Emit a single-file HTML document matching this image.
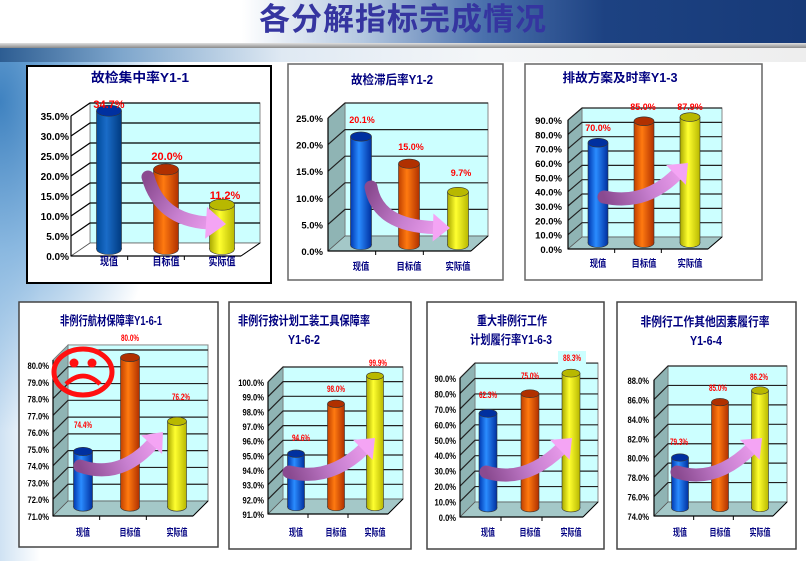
<!DOCTYPE html>
<html><head><meta charset="utf-8">
<style>
html,body{margin:0;padding:0;}
body{width:806px;height:561px;overflow:hidden;position:relative;background:#fff;font-family:"Liberation Sans","Noto Sans CJK SC",sans-serif;}
#hdr{position:absolute;left:0;top:0;width:806px;height:44px;background:linear-gradient(90deg,#fff 0%,#fff 30%,#b4c8e0 45%,#4a70ac 60%,#1d4282 75%,#173a78 100%);}
#shadow{position:absolute;left:0;top:43px;width:806px;height:5px;background:linear-gradient(#e0e0e0,#8a8a8a);}
#band{position:absolute;left:0;top:48px;width:806px;height:14px;background:linear-gradient(90deg,#2d5d92 0%,#7ea6cc 15%,#dfe9f3 35%,#f4f6f8 60%,#eeeeee 100%);}
#lside{position:absolute;left:0;top:62px;width:806px;height:499px;background:radial-gradient(ellipse 170px 330px at 0px 40px,#3f82c0 0%,#8ab8e0 45%,rgba(255,255,255,0) 100%),linear-gradient(90deg,#cfe2f3 0px,#fff 40px);}
#title{position:absolute;left:0;width:806px;top:0;text-align:center;font:bold 31px "Liberation Sans","Noto Sans CJK SC",sans-serif;color:#3535a0;line-height:40px;letter-spacing:1px;}
svg{position:absolute;left:0;top:0;}
</style></head>
<body>
<div id="hdr"></div><div id="shadow"></div><div id="band"></div><div id="lside"></div>
<div id="title">各分解指标完成情况</div>
<svg id="s" width="806" height="561" viewBox="0 0 806 561"></svg>
<script>
var CN='font-family="Liberation Sans,Noto Sans CJK SC,sans-serif"';
var charts=[
{box:[27,66,244,217],bc:"#000",bw:2,t:[["故检集中率Y1-1",140,82,98]],vmin:0,vtop:35,st:5,y0:256,k:4,ax:71,dx:19,dy:13,wr:260,lx:69,
 bx:[109,166,222],bwid:25,bb:249,v:[34.7,20,11.2],vl:[[109,108,"34.7%"],[167,160,"20.0%"],[225,199,"11.2%"]],cy:265,side:"#fff",floor:"#fff",ar:[148,177,160,220,226,224],big:1},
{box:[288,64,215,216],bc:"#666",bw:1.5,t:[["故检滞后率Y1-2",392,84,82]],vmin:0,vtop:25,st:5,y0:251,k:5.32,ax:328,dx:17,dy:15,wr:488,lx:323,
 bx:[361,409,458],bwid:21,bb:245,v:[20.1,15,9.7],vl:[[362,123,"20.1%"],[411,150,"15.0%"],[461,176,"9.7%"]],cy:270,ar:[371,187,378,226,450,228]},
{box:[525,64,237,216],bc:"#666",bw:1.5,t:[["排故方案及时率Y1-3",620,82,115]],vmin:0,vtop:90,st:10,y0:249,k:1.433,ax:568,dx:14,dy:12,wr:722,lx:562,
 bx:[598,644,690],bwid:20,bb:243,v:[70,85,87.9],vl:[[598,131,"70.0%"],[643,110,"85.0%"],[690,110,"87.9%"]],cy:267,ar:[604,197,645,206,688,163]},
{box:[19,302,199,245],bc:"#444",bw:1.5,t:[["非例行航材保障率Y1-6-1",111,325,102]],vmin:71,vtop:80.3,st:1,y0:516,k:16.78,ax:53,dx:15,dy:15,wr:208,lx:49,
 bx:[83,130,177],bwid:19,bb:507,v:[74.4,80,76.2],vl:[[83,428,"74.4%"],[130,341,"80.0%"],[181,400,"76.2%"]],cy:536,ar:[80,466,120,480,163,432],sad:1},
{box:[229,302,182,247],bc:"#444",bw:1.5,t:[["非例行按计划工装工具保障率",304,325,132],["Y1-6-2",304,344,32]],vmin:91,vtop:100,st:1,y0:514,k:14.67,ax:268,dx:15,dy:15,wr:403,lx:264,
 bx:[296,336,375],bwid:17,bb:507,v:[94.6,98,99.9],vl:[[301,441,"94.6%"],[336,392,"98.0%"],[378,366,"99.9%"]],cy:536,ar:[289,472,330,482,375,438]},
{box:[427,302,177,247],bc:"#444",bw:1.5,t:[["重大非例行工作",512,325,70],["计划履行率Y1-6-3",511,344,82]],vmin:0,vtop:90,st:10,y0:517,k:1.544,ax:460,dx:15,dy:15,wr:598,lx:456,
 bx:[488,530,571],bwid:18,bb:508,v:[62.3,75,88.3],vl:[[488,398,"62.3%"],[530,379,"75.0%"],[572,361,"88.3%",1]],cy:536,ar:[486,472,525,484,572,438]},
{box:[617,302,179,247],bc:"#444",bw:1.5,t:[["非例行工作其他因素履行率",705,326,129],["Y1-6-4",706,345,32]],vmin:74,vtop:88,st:2,y0:516,k:9.714,ax:654,dx:14,dy:14,wr:787,lx:649,
 bx:[680,720,760],bwid:17,bb:508,v:[79.3,85,86.2],vl:[[679,445,"79.3%"],[718,391,"85.0%"],[759,380,"86.2%"]],cy:536,ar:[677,472,715,484,762,438]}
];
var cats=["现值","目标值","实际值"];
function T(x,y,anchor,fs,fill,txt,len){
 return '<text x="'+x+'" y="'+y+'" text-anchor="'+anchor+'" font-size="'+fs+'" font-weight="bold" fill="'+fill+'" '+CN+(len?' textLength="'+len+'" lengthAdjust="spacingAndGlyphs"':'')+'>'+txt+'</text>';
}
var h='<defs>';
var cols=[["#0038b0","#2a8cff","#0030a0"],["#c04000","#ff7a10","#b03000"],["#a8a800","#ffff30","#b8b800"]];
cols.forEach(function(c,i){h+='<linearGradient id="g'+i+'" x1="0" x2="1" y1="0" y2="0"><stop offset="0" stop-color="'+c[0]+'"/><stop offset="0.4" stop-color="'+c[1]+'"/><stop offset="1" stop-color="'+c[2]+'"/></linearGradient>';});
h+='<linearGradient id="g3" x1="0" x2="1" y1="0" y2="0"><stop offset="0" stop-color="#004a9a"/><stop offset="0.4" stop-color="#1a6cc8"/><stop offset="1" stop-color="#003a80"/></linearGradient>';
charts.forEach(function(c,i){var a=c.ar;h+='<linearGradient id="a'+i+'" gradientUnits="userSpaceOnUse" x1="'+a[0]+'" y1="'+a[1]+'" x2="'+a[4]+'" y2="'+a[5]+'"><stop offset="0" stop-color="#8a4a90"/><stop offset="0.5" stop-color="#c880d0"/><stop offset="1" stop-color="#f4a4f4"/></linearGradient>';});
h+='</defs>';
charts.forEach(function(c,ci){
 var b=c.box;
 h+='<rect x="'+b[0]+'" y="'+b[1]+'" width="'+b[2]+'" height="'+b[3]+'" fill="#fff" stroke="'+c.bc+'" stroke-width="'+c.bw+'"/>';
 function ym(v){return c.y0-(v-c.vmin)*c.k;}
 var wl=c.ax+c.dx, yt=ym(c.vtop), fy=c.y0-c.dy;
 var gl=c.big?"#000":"#222";
 var low=b[1]>200;
 h+='<rect x="'+wl+'" y="'+(yt-c.dy)+'" width="'+(c.wr-wl)+'" height="'+(fy-yt+c.dy)+'" fill="#ccffff" stroke="#888" stroke-width="1"/>';
 h+='<polygon points="'+c.ax+','+yt+' '+wl+','+(yt-c.dy)+' '+wl+','+fy+' '+c.ax+','+c.y0+'" fill="'+(c.side||"#8fb4b4")+'" stroke="#777" stroke-width="0.8"/>';
 h+='<polygon points="'+c.ax+','+c.y0+' '+(c.wr-c.dx)+','+c.y0+' '+c.wr+','+fy+' '+wl+','+fy+'" fill="'+(c.floor||"#a4c8c8")+'" stroke="#555" stroke-width="0.8"/>';
 for(var v=c.vmin;v<=c.vtop+0.001;v+=c.st){
  var y=ym(v);
  if(v>c.vmin+0.001) h+='<polyline points="'+c.ax+','+y+' '+wl+','+(y-c.dy)+' '+c.wr+','+(y-c.dy)+'" fill="none" stroke="'+gl+'" stroke-width="1.2"/>';
  var lab=v.toFixed(1)+"%";
  h+=T(c.lx,y+4,"end",c.big?10:9.5,"#000",lab,low?lab.length*4.3:0);
 }
 h+='<line x1="'+c.ax+'" y1="'+yt+'" x2="'+c.ax+'" y2="'+c.y0+'" stroke="#000" stroke-width="1.2"/>';
 h+='<line x1="'+c.ax+'" y1="'+c.y0+'" x2="'+(c.wr-c.dx)+'" y2="'+c.y0+'" stroke="#000" stroke-width="1.2"/>';
 h+='<line x1="'+(c.wr-c.dx)+'" y1="'+c.y0+'" x2="'+c.wr+'" y2="'+fy+'" stroke="#000" stroke-width="1"/>';
 var seg=(c.wr-c.dx-c.ax)/3;
 for(var t=1;t<3;t++){var tx=c.ax+seg*t;h+='<line x1="'+tx+'" y1="'+c.y0+'" x2="'+tx+'" y2="'+(c.y0+4)+'" stroke="#000"/>';}
 if(c.sad){
  h+='<ellipse cx="83" cy="372" rx="29" ry="23" fill="none" stroke="#ff1010" stroke-width="5"/>';
  h+='<circle cx="74" cy="363" r="4.5" fill="#ff1010"/><circle cx="92" cy="363" r="4.5" fill="#ff1010"/>';
  h+='<path d="M66,384 Q83,368 100,384" fill="none" stroke="#ff1010" stroke-width="4.5"/>';
 }
 c.bx.forEach(function(cx,j){
  var w=c.bwid, x=cx-w/2, top=ym(c.v[j])-c.dy/2, ry=w*0.22, bot=c.bb;
  var g=(c.big&&j==0)?"g3":"g"+j;
  h+='<ellipse cx="'+cx+'" cy="'+bot+'" rx="'+(w/2)+'" ry="'+ry+'" fill="url(#'+g+')" stroke="#333" stroke-width="0.6"/>';
  h+='<rect x="'+x+'" y="'+top+'" width="'+w+'" height="'+(bot-top)+'" fill="url(#'+g+')"/>';
  h+='<line x1="'+x+'" y1="'+top+'" x2="'+x+'" y2="'+bot+'" stroke="#333" stroke-width="0.6"/><line x1="'+(x+w)+'" y1="'+top+'" x2="'+(x+w)+'" y2="'+bot+'" stroke="#333" stroke-width="0.6"/>';
  h+='<ellipse cx="'+cx+'" cy="'+top+'" rx="'+(w/2)+'" ry="'+ry+'" fill="'+cols[j][2]+'" stroke="#333" stroke-width="0.6"/>';
  h+=T(cx,c.cy,"middle",c.big?11:10,"#000080",cats[j],cats[j].length*(low?7:(c.big?9:8.3)));
 });
 var a=c.ar, ex=a[4],ey=a[5], vx=ex-a[2], vy=ey-a[3], L=Math.sqrt(vx*vx+vy*vy); vx/=L; vy/=L;
 var hl=c.big?20:17, hw=c.big?16:14, bxp=ex-vx*hl, byp=ey-vy*hl, px=-vy, py=vx;
 h+='<path d="M'+a[0]+','+a[1]+' Q'+a[2]+','+a[3]+' '+(bxp+vx*2)+','+(byp+vy*2)+'" fill="none" stroke="url(#a'+ci+')" stroke-width="13" stroke-linecap="round"/>';
 h+='<polygon points="'+ex+','+ey+' '+(bxp+px*hw)+','+(byp+py*hw)+' '+(bxp-px*hw)+','+(byp-py*hw)+'" fill="#f4a4f4"/>';
 c.vl.forEach(function(l){
  if(l[3]) h+='<rect x="'+(l[0]-14)+'" y="'+(l[1]-10)+'" width="28" height="13" fill="#ccffff"/>';
  h+=T(l[0],l[1],"middle",c.big?11:9,"#ff0000",l[2],low?l[2].length*3.6:0);
 });
 c.t.forEach(function(t){h+=T(t[1],t[2],"middle",c.big?13:12.5,"#000080",t[0],t[3]);});
});
document.getElementById('s').innerHTML=h;
</script>
</body></html>
